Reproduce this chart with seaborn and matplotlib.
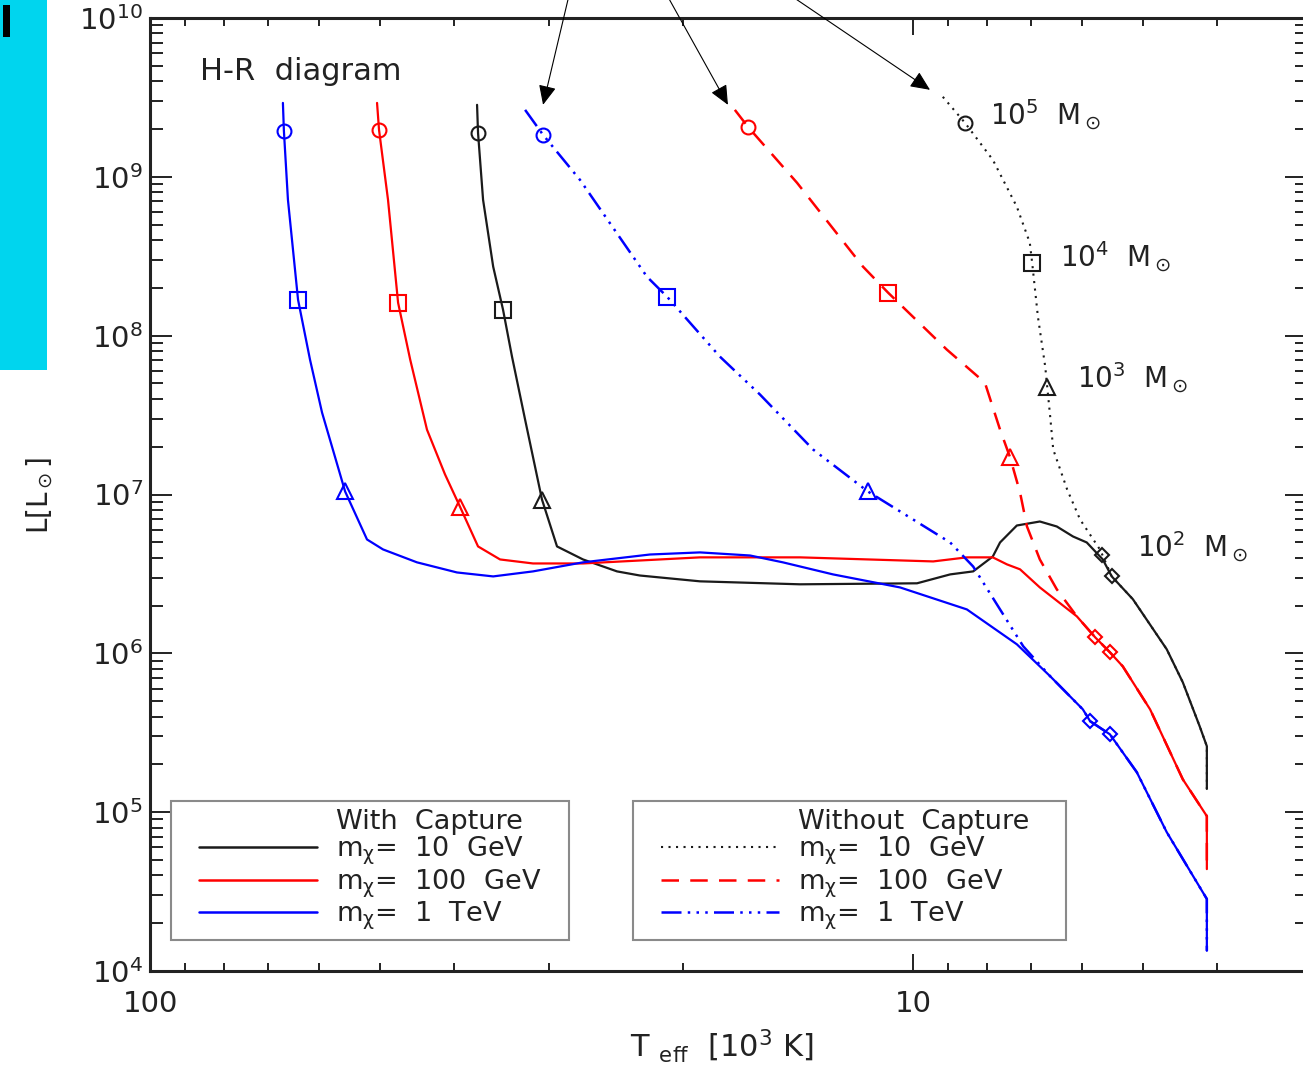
import numpy as np
import pandas as pd
import matplotlib
matplotlib.use("Agg")
import matplotlib.pyplot as plt
import seaborn as sns
from matplotlib.lines import Line2D
from matplotlib.legend_handler import HandlerLine2D
from matplotlib.patches import Rectangle
from matplotlib.ticker import LogLocator, NullFormatter

# ---------------- data (T_eff in 10^3 K, L in L_sun) ----------------
# With capture, m_chi = 10 GeV (black solid)
bs_T = [37.27, 37.16, 36.6, 35.5, 34.46, 33.54, 32.24, 30.64, 29.28, 27.07, 24.43, 22.80, 19.02, 14.06,
        9.88, 8.94, 8.34, 7.86, 7.69, 7.31, 6.82, 6.48, 6.17, 5.92, 5.64, 5.49, 5.15, 4.65, 4.43, 4.21, 4.12, 4.12]
bs_L = [2.84e9, 1.89e9, 7.17e8, 2.72e8, 1.457e8, 7.38e7, 2.96e7, 9.30e6, 4.71e6, 3.90e6, 3.28e6, 3.09e6, 2.84e6, 2.72e6,
        2.76e6, 3.14e6, 3.28e6, 4.07e6, 4.99e6, 6.38e6, 6.76e6, 6.29e6, 5.44e6, 4.99e6, 3.90e6, 3.05e6, 2.19e6, 1.06e6,
        6.57e5, 3.47e5, 2.60e5, 1.40e5]
bs_mark = [1, 4, 7, 25]

# With capture, m_chi = 100 GeV (red solid)
rs_T = [50.4, 50.1, 48.76, 47.3, 45.6, 43.35, 41.06, 39.25, 37.16, 34.77, 31.48, 27.07, 19.02, 14.06, 9.41, 8.50,
        7.86, 7.53, 7.24, 6.82, 6.10, 5.77, 5.52, 5.31, 4.89, 4.43, 4.12, 4.12]
rs_L = [2.92e9, 1.975e9, 7.17e8, 1.613e8, 7.06e7, 2.56e7, 1.34e7, 8.40e6, 4.71e6, 3.90e6, 3.68e6, 3.68e6, 4.02e6,
        4.02e6, 3.79e6, 4.02e6, 4.02e6, 3.63e6, 3.38e6, 2.60e6, 1.71e6, 1.26e6, 1.015e6, 8.28e5, 4.44e5, 1.61e5,
        9.44e4, 4.38e4]
rs_mark = [1, 3, 7, 22]

# With capture, m_chi = 1 TeV (blue solid)
bls_T = [66.96, 66.76, 65.95, 63.97, 61.7, 59.5, 55.5, 51.95, 49.5, 44.68, 39.6, 35.5, 31.48, 27.07, 22.12, 19.02,
         16.35, 14.81, 12.73, 10.40, 8.50, 7.31, 6.61, 5.99, 5.86, 5.52, 5.09, 4.65, 4.12, 4.12]
bls_L = [2.92e9, 1.947e9, 7.17e8, 1.684e8, 7.06e7, 3.28e7, 1.045e7, 5.21e6, 4.51e6, 3.74e6, 3.23e6, 3.05e6, 3.28e6,
         3.74e6, 4.19e6, 4.32e6, 4.13e6, 3.74e6, 3.14e6, 2.60e6, 1.89e6, 1.14e6, 7.17e5, 4.44e5, 3.74e5, 3.09e5,
         1.785e5, 7.48e4, 2.84e4, 1.34e4]
bls_mark = [1, 3, 6, 25]

# Without capture, m_chi = 10 GeV (black dotted)
bd_T = [9.14, 8.55, 7.86, 7.31, 7.03, 6.98, 6.86, 6.71, 6.67, 6.61, 6.55, 6.28, 6.04, 5.69, 5.65, 5.49, 5.15, 4.65,
        4.43, 4.21, 4.12, 4.12]
bd_L = [3.19e9, 2.19e9, 1.28e9, 6.48e8, 3.85e8, 2.88e8, 1.317e8, 6.38e7, 4.78e7, 3.09e7, 1.92e7, 1.075e7, 6.96e6,
        4.51e6, 4.19e6, 3.05e6, 2.19e6, 1.06e6, 6.57e5, 3.47e5, 2.60e5, 1.40e5]
bd_mark = [1, 5, 8, 14]

# Without capture, m_chi = 100 GeV (red dashed)
rd_T = [17.12, 16.45, 14.19, 11.63, 10.78, 9.03, 8.05, 7.69, 7.46, 7.24, 7.09, 6.82, 6.48, 6.10, 5.77, 5.52, 5.31,
        4.89, 4.43, 4.12, 4.12]
rd_L = [2.64e9, 2.06e9, 9.17e8, 2.72e8, 1.864e8, 8.17e7, 5.06e7, 2.56e7, 1.71e7, 1.03e7, 6.29e6, 3.90e6, 2.53e6,
        1.71e6, 1.26e6, 1.015e6, 8.28e5, 4.44e5, 1.61e5, 9.44e4, 4.38e4]
rd_mark = [1, 4, 8, 14]

# Without capture, m_chi = 1 TeV (blue dash-dot-dot-dot)
bld_T = [32.24, 30.54, 27.32, 22.32, 21.01, 17.91, 15.87, 13.52, 11.46, 8.94, 8.34, 7.69, 7.17, 6.61, 5.99, 5.86,
         5.52, 5.09, 4.65, 4.12, 4.12]
bld_L = [2.64e9, 1.838e9, 9.57e8, 2.35e8, 1.76e8, 7.38e7, 4.26e7, 1.92e7, 1.045e7, 4.99e6, 3.52e6, 1.89e6, 1.107e6,
         7.17e5, 4.44e5, 3.74e5, 3.09e5, 1.785e5, 7.48e4, 2.84e4, 1.34e4]
bld_mark = [1, 4, 8, 15]

mass_markers = ["o", "s", "^", "D"]
mass_labels = [r"10$^5$  M$_\odot$", r"10$^4$  M$_\odot$", r"10$^3$  M$_\odot$", r"10$^2$  M$_\odot$"]
mass_label_T = [7.93, 6.42, 6.10, 5.09]
mass_label_L = [2.45e9, 3.14e8, 5.45e7, 4.71e6]

arrow_tip_T = [30.54, 17.48, 9.50]
arrow_tip_L = [2.84e9, 2.84e9, 3.53e9]
arrow_tail_px = [575, 653, 753]

legend_with = ["With  Capture", r"m$_\chi$=  10  GeV", r"m$_\chi$=  100  GeV", r"m$_\chi$=  1  TeV"]
legend_without = ["Without  Capture", r"m$_\chi$=  10  GeV", r"m$_\chi$=  100  GeV", r"m$_\chi$=  1  TeV"]

xtick_vals = [100, 10]
xtick_labels = ["100", "10"]

# ---------------- style ----------------
sns.set_style("ticks")
plt.rcParams["font.family"] = ["DejaVu Sans"]
plt.rcParams["mathtext.default"] = "regular"
plt.rcParams["text.color"] = "#222222"

W, H = 1303, 1071
fig = plt.figure(figsize=(W / 100, H / 100), dpi=100)
fig.patch.set_facecolor("white")


def fx(px):
    return px / W


def fy(py):
    return 1 - py / H


# slide decoration at left
fig.add_artist(Rectangle((0, fy(370)), fx(47), 370 / H, transform=fig.transFigure,
                         facecolor="#00d5ee", edgecolor="none", zorder=0))
fig.add_artist(Rectangle((fx(3), fy(37)), fx(7), 32 / H, transform=fig.transFigure,
                         facecolor="black", edgecolor="none", zorder=1))

ax = fig.add_axes([fx(150), fy(971), (1306.5 - 150) / W, (971 - 18) / H])
ax.set_xscale("log")
ax.set_yscale("log")

BLACK, RED, BLUE = "#1a1a1a", "#ff0000", "#0000ff"
ls_solid = "-"
ls_dot = (0, (1, 2.6))
ls_dash = (0, (7, 4.5))
ls_dddd = (0, (8, 2.5, 1, 2.5, 1, 2.5, 1, 2.5))

series = [
    (bs_T, bs_L, bs_mark, BLACK, ls_solid, 1.6),
    (rs_T, rs_L, rs_mark, RED, ls_solid, 1.6),
    (bls_T, bls_L, bls_mark, BLUE, ls_solid, 1.6),
    (bd_T, bd_L, bd_mark, BLACK, ls_dot, 1.5),
    (rd_T, rd_L, rd_mark, RED, ls_dash, 1.8),
    (bld_T, bld_L, bld_mark, BLUE, ls_dddd, 1.8),
]

marker_sizes = {"o": 10, "s": 11, "^": 12, "D": 7.5}

for T, L, marks, col, ls, lw in series:
    df = pd.DataFrame({"T": T, "L": L})
    sns.lineplot(data=df, x="T", y="L", sort=False, estimator=None, color=col,
                 linestyle=ls, linewidth=lw, ax=ax)
    for m, idx in zip(mass_markers, marks):
        ax.plot([T[idx]], [L[idx]], linestyle="none", marker=m, markersize=marker_sizes[m],
                markerfacecolor="none", markeredgecolor=col, markeredgewidth=1.5, zorder=4)

ax.set_xlim(100, 3.05)
ax.set_ylim(1e4, 1e10)
ax.set_xlabel("")
ax.set_ylabel("")

ax.set_xticks(xtick_vals)
ax.set_xticklabels(xtick_labels)
ax.xaxis.set_minor_locator(LogLocator(base=10, subs=np.arange(2, 10), numticks=20))
ax.xaxis.set_minor_formatter(NullFormatter())
ax.yaxis.set_major_locator(LogLocator(base=10, numticks=20))
ax.yaxis.set_minor_locator(LogLocator(base=10, subs=np.arange(2, 10), numticks=20))
ax.yaxis.set_minor_formatter(NullFormatter())

ax.tick_params(which="both", direction="in", top=True, right=True, width=1.4, color="#222222",
               labelcolor="#222222")
ax.tick_params(axis="x", which="major", length=12, pad=14, labelsize=21)
ax.tick_params(axis="x", which="minor", length=6)
ax.tick_params(axis="y", which="major", length=16, pad=5, labelsize=21)
ax.tick_params(axis="y", which="minor", length=9)
for s in ax.spines.values():
    s.set_linewidth(2.2)
    s.set_color("#222222")

# texts
ax.text(0.043, 0.944, "H-R  diagram", transform=ax.transAxes, fontsize=22, va="center", ha="left")
for lab, tT, tL in zip(mass_labels, mass_label_T, mass_label_L):
    ax.text(tT, tL, lab, fontsize=20, ha="left", va="center")

fig.text(fx(40), fy(495), r"L[L$_\odot$]", rotation=90, fontsize=20, ha="center", va="center")
fig.text(fx(722), fy(1046), r"T$\ {}_{eff}$  [10$^3$ K]", fontsize=22, ha="center", va="center")

# arrows from above the figure
for tT, tL, tx in zip(arrow_tip_T, arrow_tip_L, arrow_tail_px):
    ax.annotate("", xy=(tT, tL), xycoords="data", xytext=(tx, H + 30), textcoords="figure pixels",
                arrowprops=dict(arrowstyle="-|>,head_length=0.6,head_width=0.27", color="black",
                                lw=0.8, shrinkA=0, shrinkB=0, mutation_scale=20),
                annotation_clip=False)

# legends
hm = HandlerLine2D(numpoints=2, marker_pad=0.72)
common = dict(loc="upper left", bbox_transform=fig.transFigure, mode="expand", borderaxespad=0,
              fontsize=19.5, handlelength=5.8, handletextpad=0.0, labelspacing=0.0, borderpad=0.3,
              frameon=True, fancybox=False, edgecolor="#8a8a8a", framealpha=1,
              handler_map={Line2D: hm})

h1 = [Line2D([], [], linestyle="none"),
      Line2D([], [], color=BLACK, lw=1.8, ls=ls_solid),
      Line2D([], [], color=RED, lw=1.8, ls=ls_solid),
      Line2D([], [], color=BLUE, lw=1.8, ls=ls_solid)]
leg1 = ax.legend(handles=h1, labels=legend_with,
                 bbox_to_anchor=(fx(171), fy(940), (569 - 171) / W, (940 - 801) / H), **common)
leg1.get_frame().set_linewidth(1.5)
ax.add_artist(leg1)

h2 = [Line2D([], [], linestyle="none"),
      Line2D([], [], color=BLACK, lw=1.5, ls=ls_dot),
      Line2D([], [], color=RED, lw=1.8, ls=ls_dash),
      Line2D([], [], color=BLUE, lw=1.8, ls=ls_dddd)]
leg2 = ax.legend(handles=h2, labels=legend_without,
                 bbox_to_anchor=(fx(633), fy(940), (1066 - 633) / W, (940 - 801) / H), **common)
leg2.get_frame().set_linewidth(1.5)

fig.savefig("out.png", dpi=100)
